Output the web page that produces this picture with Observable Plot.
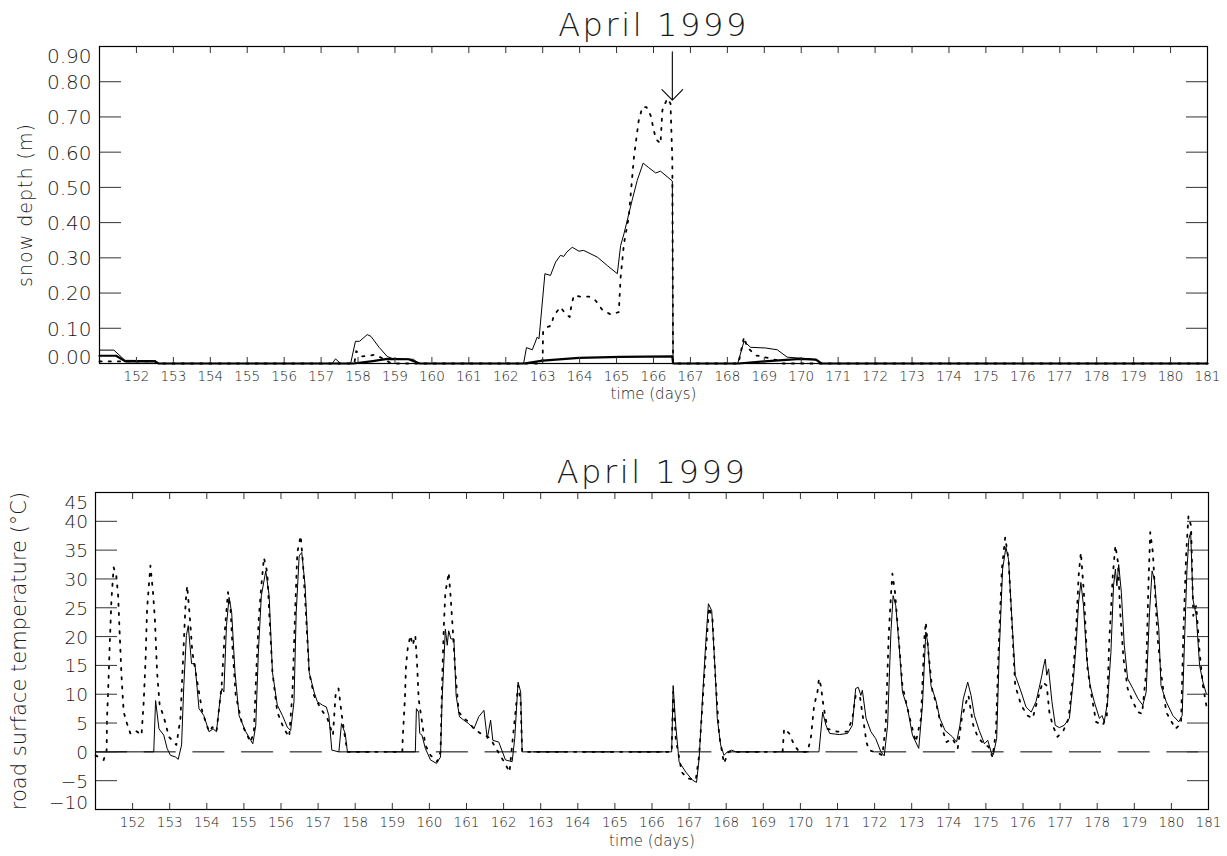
<!DOCTYPE html>
<html>
<head>
<meta charset="utf-8">
<script src="https://cdn.jsdelivr.net/npm/d3@7"></script>
<script src="https://cdn.jsdelivr.net/npm/@observablehq/plot@0.6"></script>
<style>
  body { margin: 0; background: #fff; }
  #chart svg { display: block; }
</style>
</head>
<body>
<div id="chart"></div>
<script>
// ---------- texts ----------
const titleText = "April 1999";
const timeLabel = "time (days)";
const depthLabel = "snow depth (m)";
const tempLabel = "road surface temperature (°C)";

// ---------- ticks ----------
const dayDomain = [151, 181];
const dayTicks = [151,152,153,154,155,156,157,158,159,160,161,162,163,164,165,166,167,168,169,170,171,172,173,174,175,176,177,178,179,180,181];
const dayLabels = [152,153,154,155,156,157,158,159,160,161,162,163,164,165,166,167,168,169,170,171,172,173,174,175,176,177,178,179,180,181];
const depthDomain = [0, 0.9];
const depthTicks = [0, 0.1, 0.2, 0.3, 0.4, 0.5, 0.6, 0.7, 0.8, 0.9];
const tempDomain = [-10, 45];
const tempTicks = [-10, -5, 0, 5, 10, 15, 20, 25, 30, 35, 40, 45];
const zeroRef = [0];

// ---------- snow depth (m) ----------
const depthSolid = [[151.0,0.038],[151.39,0.038],[151.69,0.009],[152.52,0.008],[152.58,0],[157.3,0],[157.39,0.013],[157.53,0],[157.8,0],[157.93,0.063],[158.04,0.063],[158.25,0.082],[158.35,0.077],[158.57,0.046],[158.79,0.02],[158.95,0.013],[159.5,0.012],[159.64,0],[162.45,0],[162.49,0.004],[162.56,0.045],[162.72,0.039],[162.85,0.075],[162.9,0.07],[163.06,0.255],[163.21,0.25],[163.35,0.288],[163.48,0.307],[163.57,0.304],[163.65,0.316],[163.8,0.33],[163.98,0.319],[164.11,0.321],[164.48,0.302],[164.75,0.278],[165.02,0.255],[165.11,0.335],[165.2,0.368],[165.42,0.463],[165.56,0.52],[165.72,0.569],[165.87,0.556],[166.06,0.541],[166.19,0.546],[166.51,0.518],[166.53,0],[168.28,0],[168.45,0.063],[168.63,0.046],[169.04,0.044],[169.35,0.039],[169.62,0.018],[170.25,0.013],[170.43,0.009],[170.52,0],[181,0]];
const depthDotted = [[151.0,0.006],[152.5,0.006],[152.6,0],[157.9,0],[157.95,0.035],[158.1,0.02],[158.3,0.022],[158.45,0.025],[158.7,0.013],[158.85,0.003],[159.0,0],[162.99,0],[163.0,0.02],[163.01,0.089],[163.12,0.103],[163.23,0.108],[163.3,0.136],[163.48,0.16],[163.62,0.141],[163.73,0.132],[163.77,0.16],[163.84,0.193],[164.02,0.19],[164.25,0.19],[164.43,0.179],[164.61,0.153],[164.84,0.139],[165.06,0.146],[165.11,0.245],[165.2,0.34],[165.33,0.416],[165.47,0.586],[165.6,0.69],[165.7,0.728],[165.81,0.728],[165.92,0.705],[166.06,0.638],[166.19,0.624],[166.24,0.719],[166.37,0.752],[166.46,0.738],[166.51,0.577],[166.53,0],[168.3,0],[168.45,0.075],[168.54,0.046],[168.76,0.023],[168.94,0.02],[169.35,0.009],[169.5,0],[181,0]];
const depthThick = [[151.0,0.022],[151.45,0.022],[151.7,0.006],[152.5,0.006],[152.6,0],[157.87,0],[158.4,0.007],[158.79,0.013],[159.37,0.012],[159.67,0],[162.49,0],[163.0,0.008],[163.98,0.016],[165.11,0.019],[166.51,0.02],[166.53,0],[168.3,0],[169.0,0.006],[169.98,0.013],[170.4,0.011],[170.55,0],[181,0]];
const arrowNote = [{day: 166.51, from: 0.885, to: 0.748}];

// ---------- road surface temperature (°C) ----------
const tempSolid = [[151,0],[152.57,0],[152.62,8.9],[152.71,4],[152.84,2.9],[152.93,0.6],[153.02,-0.6],[153.16,-0.9],[153.23,-1.3],[153.32,1.2],[153.38,11.5],[153.45,20.2],[153.5,21.9],[153.59,15.3],[153.68,15.3],[153.79,7.5],[153.92,6.3],[154.06,3.5],[154.17,4],[154.26,3.5],[154.37,9.8],[154.41,11],[154.46,10.4],[154.53,21.9],[154.6,26.8],[154.67,24.2],[154.76,13.8],[154.87,6.3],[155.05,3.5],[155.24,1.4],[155.32,4.6],[155.39,17.3],[155.47,27.1],[155.59,31.4],[155.68,27.1],[155.77,13.8],[155.9,8.1],[156.04,6.3],[156.17,4.3],[156.26,3.7],[156.35,8.7],[156.41,24.2],[156.49,34],[156.56,34.6],[156.65,28.8],[156.76,13.8],[156.89,10.4],[156.98,8.7],[157.12,8.1],[157.22,7.8],[157.29,6.3],[157.37,0.3],[157.56,0],[157.63,4.9],[157.73,3.2],[157.79,0],[159.62,0],[159.65,7.5],[159.71,6.9],[159.74,3.2],[159.8,2.9],[159.89,0.6],[160.03,-1.4],[160.19,-2],[160.3,-0.9],[160.34,8.7],[160.39,15.6],[160.43,21.3],[160.48,18.5],[160.52,21],[160.58,19.6],[160.66,19.6],[160.72,9.8],[160.81,6.1],[160.93,5.5],[161.06,4.9],[161.2,4],[161.33,6.1],[161.47,7.2],[161.56,2.3],[161.65,5.5],[161.71,2],[161.87,1.7],[162.05,-1.4],[162.23,-1.7],[162.3,2.3],[162.39,12.1],[162.46,10.4],[162.5,0],[166.53,0],[166.57,11.5],[166.64,4.6],[166.73,-1.7],[166.91,-3.5],[167.09,-4.9],[167.2,-5.3],[167.27,-1.2],[167.36,9.2],[167.45,19],[167.52,25.7],[167.61,24.5],[167.7,14.4],[167.76,5.8],[167.85,1.2],[167.94,-0.6],[168.03,0],[168.15,0.3],[168.26,0],[170.5,0],[170.6,6.9],[170.69,4.6],[170.79,3.2],[171.05,3],[171.27,3.2],[171.4,4.6],[171.49,11],[171.56,11.2],[171.63,9.8],[171.67,10.7],[171.77,5.8],[171.9,3.5],[172.03,2.3],[172.17,0],[172.26,-0.7],[172.35,4.6],[172.44,20.8],[172.5,27.1],[172.57,25.4],[172.66,18.5],[172.75,10.4],[172.89,7.5],[173.02,2.9],[173.19,0.6],[173.29,8.1],[173.38,20.8],[173.43,19],[173.52,11.5],[173.65,9],[173.76,5.8],[173.9,3.7],[174.1,2.6],[174.21,1.7],[174.3,4.6],[174.39,9.2],[174.51,12.1],[174.6,9.8],[174.69,6.3],[174.82,3.7],[174.96,1.4],[175.05,2],[175.14,0],[175.2,-0.5],[175.29,2.3],[175.36,17.3],[175.45,31.7],[175.54,35.5],[175.61,33.4],[175.7,23.1],[175.79,13.3],[175.95,10.4],[176.08,7.8],[176.22,6.9],[176.35,8.7],[176.44,11.2],[176.51,13.3],[176.55,14.7],[176.6,16.1],[176.64,13.3],[176.69,14.4],[176.78,8.7],[176.87,4.6],[176.98,4.2],[177.11,4.6],[177.25,5.8],[177.36,12.7],[177.43,18.5],[177.5,26],[177.56,29.4],[177.63,25.4],[177.72,16.1],[177.81,11.5],[177.92,8.7],[178.06,5.8],[178.13,6.3],[178.19,5.2],[178.28,8.7],[178.37,17.3],[178.44,28.8],[178.49,31.7],[178.53,28.8],[178.58,32.5],[178.65,27.7],[178.73,18.5],[178.82,12.7],[178.96,11],[179.1,9.2],[179.23,8.1],[179.32,10.4],[179.41,24.2],[179.48,31.4],[179.54,30],[179.6,25.4],[179.66,21.3],[179.72,11.5],[179.86,8.7],[180.04,6.3],[180.2,5.2],[180.29,6.3],[180.35,18.5],[180.42,31.7],[180.47,36.9],[180.52,38.1],[180.58,26.5],[180.67,23.6],[180.76,15],[180.85,12.1],[180.94,10.1]];
const tempDotted = [[151,-0.6],[151.22,-1.4],[151.3,0.3],[151.31,5.8],[151.34,10.4],[151.38,17.9],[151.43,26.5],[151.49,32],[151.56,30.6],[151.61,27.1],[151.65,20.8],[151.7,13.3],[151.76,6.9],[151.85,4.9],[151.94,3.2],[152.08,3.7],[152.24,2.9],[152.3,8.7],[152.35,16.1],[152.39,24.8],[152.48,32.3],[152.55,27.7],[152.6,23.1],[152.66,13.8],[152.73,8.1],[152.84,6.1],[152.98,2.6],[153.18,1.2],[153.29,5.8],[153.36,16.1],[153.43,26],[153.47,28.8],[153.54,23.6],[153.61,17.3],[153.7,13.8],[153.88,6.9],[154.06,3.5],[154.15,4.3],[154.26,3.5],[154.4,11.5],[154.49,21.3],[154.57,27.7],[154.64,24.8],[154.7,17.3],[154.78,9.8],[154.96,4.6],[155.18,1.7],[155.27,3.5],[155.33,13.3],[155.4,23.1],[155.47,28.8],[155.54,33.7],[155.63,31.1],[155.69,23.1],[155.77,13.8],[155.9,6.9],[156.08,4],[156.22,2.6],[156.31,10.4],[156.38,24.2],[156.44,34.6],[156.53,37.5],[156.59,32.9],[156.67,24.2],[156.76,13.8],[156.89,9.8],[157.07,7.5],[157.25,5.8],[157.4,2.9],[157.47,9.8],[157.55,11],[157.64,6.3],[157.73,2.3],[157.79,0],[159.27,0],[159.28,2.3],[159.34,9.2],[159.37,15],[159.42,18.2],[159.49,20.2],[159.55,18.5],[159.62,20.2],[159.67,15],[159.71,9.2],[159.8,5.2],[159.89,1.2],[160.03,-0.6],[160.21,-1.7],[160.3,0],[160.34,11.5],[160.39,21.9],[160.43,27.7],[160.48,29.4],[160.52,31.1],[160.57,27.1],[160.63,21.3],[160.7,13.8],[160.79,6.9],[160.93,5.8],[161.06,5.2],[161.2,4],[161.38,3.2],[161.47,3],[161.65,2.3],[161.74,1.2],[162.01,-1.7],[162.16,-3.5],[162.23,1.2],[162.32,6.9],[162.39,11.5],[162.46,8.7],[162.5,0],[166.53,0],[166.57,10.4],[166.64,2.3],[166.8,-3.5],[166.95,-4.6],[167.18,-4.9],[167.27,-0.6],[167.36,8.1],[167.45,17.3],[167.54,25.1],[167.63,23.1],[167.7,13.8],[167.81,2.9],[167.94,-2],[168.06,0],[169.52,0],[169.56,4],[169.7,3.2],[169.83,1.2],[169.97,0],[170.19,0],[170.28,2.3],[170.37,8.1],[170.46,10.4],[170.5,12.7],[170.55,11.5],[170.62,8.1],[170.73,4],[170.99,3.5],[171.27,3.5],[171.4,5.8],[171.49,9.8],[171.6,9.8],[171.69,5.8],[171.78,1.7],[171.85,0.3],[172.12,-0.3],[172.21,-0.6],[172.3,4.6],[172.38,20.2],[172.44,27.1],[172.48,30.9],[172.55,27.7],[172.65,19.6],[172.75,11.5],[172.93,6.3],[173.11,1.7],[173.25,5.8],[173.34,19.6],[173.38,22.5],[173.45,17.3],[173.56,10.4],[173.65,8.7],[173.79,4.6],[173.94,1.7],[174.1,2.3],[174.24,0.6],[174.35,5.8],[174.44,8.1],[174.53,9.8],[174.57,8.1],[174.66,4.6],[174.78,2.6],[174.96,1.2],[175.07,0.9],[175.18,-0.9],[175.27,3.5],[175.34,17.3],[175.43,31.7],[175.52,37.2],[175.61,33.4],[175.7,22.5],[175.79,11.5],[175.95,8.1],[176.12,6.3],[176.26,5.8],[176.4,9.2],[176.53,12.1],[176.64,11.5],[176.71,6.9],[176.8,4.6],[176.93,2.6],[177.09,3.7],[177.23,5.8],[177.34,12.7],[177.43,20.8],[177.5,30.6],[177.56,34.6],[177.64,27.7],[177.74,14.4],[177.83,10.4],[177.97,5.2],[178.15,4.6],[178.26,6.3],[178.32,18.5],[178.42,30.6],[178.49,35.8],[178.56,32.9],[178.62,24.2],[178.71,16.1],[178.82,11],[178.96,8.7],[179.1,6.9],[179.21,6.6],[179.32,13.8],[179.38,28.8],[179.43,38.1],[179.5,34.6],[179.57,26.5],[179.63,19.6],[179.72,13.8],[179.86,6.9],[180.11,4],[180.26,4.9],[180.32,20.2],[180.4,34.6],[180.46,40.9],[180.53,39.2],[180.59,23.6],[180.67,25.4],[180.76,17.3],[180.85,11.5],[180.94,8.1],[181,7]];

// ---------- shared styling ----------
const FONT = "'DejaVu Sans', 'Liberation Sans', sans-serif";
const INK = "#1a1a1a";
const TICK = "#333";
const DOTS = "2.2,7";
const W = 200; // light weight, close to the thin stroke font of the original
const fmtDepth = d => d.toFixed(2);
const fmtTemp = d => d < 0 ? "\u2212" + Math.abs(d) : String(d);

function frameTicks(yTicks, ySize, xSize) {
  return [
    Plot.axisX({anchor: "bottom", ticks: dayTicks, tickSize: xSize, dy: -xSize, tickFormat: () => "", label: null, stroke: TICK}),
    Plot.axisX({anchor: "top", ticks: dayTicks, tickSize: xSize, dy: xSize, tickFormat: () => "", label: null, stroke: TICK}),
    Plot.axisY({anchor: "left", ticks: yTicks, tickSize: ySize, dx: ySize, tickFormat: () => "", label: null, stroke: TICK}),
    Plot.axisY({anchor: "right", ticks: yTicks, tickSize: ySize, dx: -ySize, tickFormat: () => "", label: null, stroke: TICK}),
    Plot.frame({stroke: "#000", strokeWidth: 1.2})
  ];
}

function yTickLabels(ticks, fmt, fs, dx, dyHi, dyLo) {
  const lo = ticks[0], hi = ticks[ticks.length - 1];
  const common = {y: d => d, text: fmt, frameAnchor: "left", textAnchor: "end", dx, fontSize: fs, fill: INK, fontWeight: W};
  return [
    Plot.text(ticks.filter(t => t !== lo && t !== hi), {...common, dy: 1}),
    Plot.text([hi], {...common, dy: dyHi}),
    Plot.text([lo], {...common, dy: dyLo})
  ];
}

function xTickLabels(dy) {
  return Plot.text(dayLabels, {x: d => d, text: d => String(d), frameAnchor: "bottom", dy, fontSize: 13.5, fill: INK, fontWeight: W});
}

function spaceOut(svg, content, spacing) {
  d3.select(svg).selectAll("text")
    .filter(function () { return this.textContent === content; })
    .style("letter-spacing", spacing);
}

const chart = document.getElementById("chart");

// ---------- top panel: snow depth ----------
const topPlot = Plot.plot({
  width: 1227, height: 430,
  marginLeft: 99, marginRight: 20, marginTop: 46, marginBottom: 67,
  style: {fontFamily: FONT, background: "#fff", color: INK},
  x: {domain: dayDomain},
  y: {domain: depthDomain},
  marks: [
    Plot.line(depthThick, {x: d => d[0], y: d => d[1], stroke: "#000", strokeWidth: 2.2}),
    Plot.line(depthSolid, {x: d => d[0], y: d => d[1], stroke: "#000", strokeWidth: 1}),
    Plot.line(depthDotted, {x: d => d[0], y: d => d[1], stroke: "#000", strokeWidth: 1.8, strokeDasharray: DOTS}),
    Plot.arrow(arrowNote, {x1: "day", x2: "day", y1: "from", y2: "to", stroke: "#000", strokeWidth: 1.1, headAngle: 90, headLength: 20}),
    ...frameTicks(depthTicks, 22, 6),
    ...yTickLabels(depthTicks, fmtDepth, 20, -8, 10, -6),
    xTickLabels(17),
    Plot.text([timeLabel], {frameAnchor: "bottom", dy: 35, fontSize: 15, fill: INK, fontWeight: W}),
    Plot.text([depthLabel], {frameAnchor: "left", textAnchor: "middle", dx: -74, rotate: -90, fontSize: 19, fill: INK, fontWeight: W}),
    Plot.text([titleText], {frameAnchor: "top", dy: -11, lineAnchor: "bottom", fontSize: 32, fill: INK, fontWeight: W})
  ]
});
spaceOut(topPlot, titleText, "2.6px");
spaceOut(topPlot, depthLabel, "1px");
chart.appendChild(topPlot);

// ---------- bottom panel: road surface temperature ----------
const bottomPlot = Plot.plot({
  width: 1227, height: 426,
  marginLeft: 95, marginRight: 19, marginTop: 62, marginBottom: 47,
  style: {fontFamily: FONT, background: "#fff", color: INK},
  x: {domain: dayDomain},
  y: {domain: tempDomain},
  marks: [
    Plot.ruleY(zeroRef, {stroke: "#000", strokeWidth: 1, strokeDasharray: "32,16.7"}),
    Plot.line(tempSolid, {x: d => d[0], y: d => d[1], stroke: "#000", strokeWidth: 1}),
    Plot.line(tempDotted, {x: d => d[0], y: d => d[1], stroke: "#000", strokeWidth: 1.8, strokeDasharray: DOTS}),
    ...frameTicks(tempTicks, 22, 6),
    ...yTickLabels(tempTicks, fmtTemp, 18.5, -7.5, 11, -6),
    xTickLabels(17),
    Plot.text([timeLabel], {frameAnchor: "bottom", dy: 36, fontSize: 15, fill: INK, fontWeight: W}),
    Plot.text([tempLabel], {frameAnchor: "left", textAnchor: "middle", dx: -76, rotate: -90, fontSize: 21, fill: INK, fontWeight: W}),
    Plot.text([titleText], {frameAnchor: "top", dy: -10, lineAnchor: "bottom", fontSize: 32, fill: INK, fontWeight: W})
  ]
});
spaceOut(bottomPlot, titleText, "2.6px");
chart.appendChild(bottomPlot);
</script>
</body>
</html>
